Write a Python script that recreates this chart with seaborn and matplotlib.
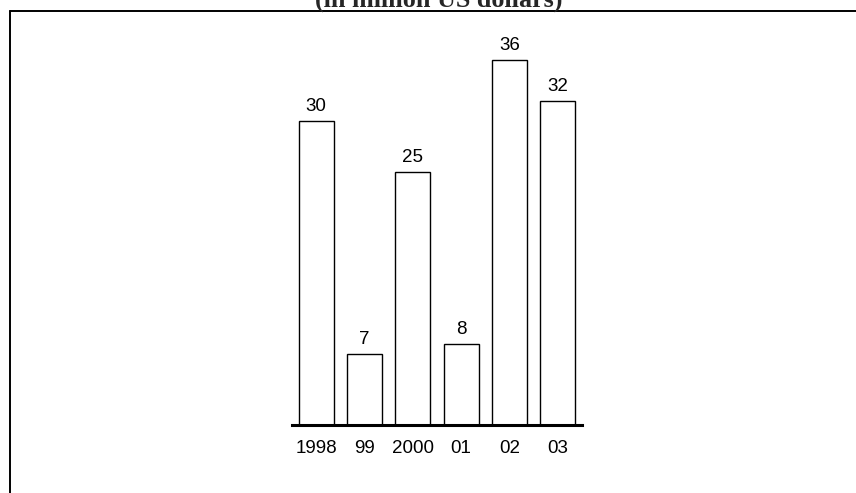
import matplotlib
matplotlib.use("Agg")
import matplotlib.pyplot as plt
from matplotlib.lines import Line2D
import seaborn as sns
import pandas as pd

# values
years = ["1998", "99", "2000", "01", "02", "03"]
values = [30, 7, 25, 8, 36, 32]
title = "(in million US dollars)"

W, H = 856, 493
sns.set_theme(style="white")
plt.rcParams["font.family"] = ["Liberation Sans", "DejaVu Sans"]

fig = plt.figure(figsize=(W / 100, H / 100), dpi=100)
fig.patch.set_facecolor("white")

# axes placed so the baseline sits at y=425 and spans x 292..582
ax_left, ax_right = 292, 582
ax_bottom, ax_top = 425, 42
ax = fig.add_axes([ax_left / W, (H - ax_bottom) / H,
                   (ax_right - ax_left) / W, (ax_bottom - ax_top) / H])

df = pd.DataFrame({"year": years, "value": values})
sns.barplot(data=df, x="year", y="value", ax=ax, color="white",
            edgecolor="black", linewidth=1.0, width=0.73, saturation=1)

ax.set_xlim(-0.5, len(years) - 0.5)
ax.set_ylim(0, (ax_bottom - ax_top) / 10.13)

for i, v in enumerate(values):
    ax.annotate(str(v), (i, v), xytext=(0, 7.2), textcoords="offset points",
                ha="center", va="baseline", fontsize=13.5, color="black")

for s in ["top", "right", "left"]:
    ax.spines[s].set_visible(False)
ax.spines["bottom"].set_linewidth(2.2)
ax.spines["bottom"].set_color("black")
ax.set_yticks([])
ax.set_xlabel("")
ax.set_ylabel("")
ax.tick_params(axis="x", length=0, pad=11, labelsize=13.5, colors="black")
ax.set_facecolor("none")

# outer frame: top and left lines
fig.add_artist(Line2D([10 / W, 1], [1 - 11 / H, 1 - 11 / H],
                      transform=fig.transFigure, color="black", lw=1.4))
fig.add_artist(Line2D([10 / W, 10 / W], [0, 1 - 11 / H],
                      transform=fig.transFigure, color="black", lw=1.4))

# title, clipped at the top edge as in the source
fig.text(439 / W, 1 - 7 / H, title, ha="center", va="baseline",
         fontsize=18.8, fontweight="bold",
         family=["Liberation Serif", "DejaVu Serif"])

fig.savefig("out.png", dpi=100, facecolor="white")
